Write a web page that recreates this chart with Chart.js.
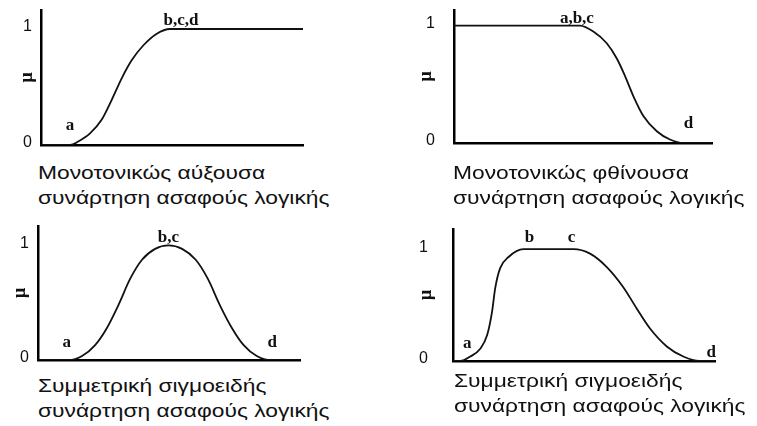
<!DOCTYPE html>
<html>
<head>
<meta charset="utf-8">
<script src="https://cdn.jsdelivr.net/npm/chart.js@4.4.1/dist/chart.umd.min.js"></script>
<style>
  html, body { margin: 0; padding: 0; background: #fff; }
  #page { position: relative; width: 757px; height: 426px; overflow: hidden; }
  canvas { position: absolute; }
  .caption {
    position: absolute;
    font-family: "Liberation Sans", Arial, sans-serif;
    font-size: 19px;
    line-height: 25px;
    color: #111;
    white-space: nowrap;
    transform: scaleX(1.2);
    transform-origin: left top;
  }
</style>
</head>
<body>
<div id="page">
  <canvas id="p1" width="380" height="150" style="left:0px;top:0px"></canvas>
  <canvas id="p2" width="380" height="150" style="left:377px;top:0px"></canvas>
  <canvas id="p3" width="380" height="150" style="left:0px;top:213px"></canvas>
  <canvas id="p4" width="380" height="150" style="left:377px;top:213px"></canvas>

  <div class="caption" style="left:38px;top:160px">Μονοτονικώς αύξουσα<br>συνάρτηση ασαφούς λογικής</div>
  <div class="caption" style="left:453px;top:160px">Μονοτονικώς φθίνουσα<br>συνάρτηση ασαφούς λογικής</div>
  <div class="caption" style="left:38px;top:373px">Συμμετρική σιγμοειδής<br>συνάρτηση ασαφούς λογικής</div>
  <div class="caption" style="left:454px;top:368px">Συμμετρική σιγμοειδής<br>συνάρτηση ασαφούς λογικής</div>
</div>

<script>
// Τιμές των καμπυλών (x σε μονάδες 0-100 του άξονα, y = μ)
const yTicks = [0, 1];

// 1. Μονοτονικώς αύξουσα
const p1X = [0, 11.1, 14.2, 18.7, 23.2, 27, 30.8, 34.6, 39.1, 44.2, 49.2, 100];
const p1Y = [0, 0, 0.03, 0.10, 0.22, 0.39, 0.575, 0.73, 0.86, 0.96, 1, 1];
const p1Marks = ["a", "b,c,d"];
const p1MarkX = [11.1, 49.2];
const p1MarkY = [0, 1];

// 2. Μονοτονικώς φθίνουσα
const p2X = [0, 48.8, 54, 59.2, 63.1, 66.3, 69.5, 73.4, 78.6, 83.7, 88.9, 100];
const p2Y = [1, 1, 0.95, 0.85, 0.72, 0.57, 0.40, 0.23, 0.10, 0.03, 0, 0];
const p2Marks = ["a,b,c", "d"];
const p2MarkX = [48.8, 88.9];
const p2MarkY = [1, 0];

// 3. Συμμετρική σιγμοειδής (καμπάνα)
const p3X = [0, 11.7, 16.8, 21.8, 26.3, 30.7, 35.2, 39.7, 44.7, 49.8, 55, 60.2, 64.8, 69.4, 74, 78.5, 83.5, 89, 100];
const p3Y = [0, 0, 0.035, 0.13, 0.28, 0.48, 0.71, 0.875, 0.97, 1, 0.97, 0.875, 0.71, 0.48, 0.28, 0.13, 0.035, 0, 0];
const p3Marks = ["a", "b,c", "d"];
const p3MarkX = [11.7, 49.8, 89];
const p3MarkY = [0, 1, 0];

// 4. Συμμετρική σιγμοειδής (τραπέζιο)
const p4X = [0, 2.8, 6.6, 10.4, 13, 14.9, 16.1, 18, 21.2, 26.9, 46, 52.3, 58.7, 65, 70.1, 75.2, 81.6, 87.9, 94, 100];
const p4Y = [0, 0, 0.04, 0.11, 0.23, 0.44, 0.65, 0.83, 0.93, 1, 1, 0.96, 0.84, 0.66, 0.47, 0.29, 0.13, 0.04, 0, 0];
const p4Marks = ["a", "b", "c", "d"];
const p4MarkX = [2.8, 26.9, 46, 94];
const p4MarkY = [0, 1, 1, 0];

// Plugin που γράφει τα a, b, c, d πάνω στην καμπύλη
const markPlugin = {
  id: "marks",
  afterDatasetsDraw(chart, args, opts) {
    const { ctx, scales } = chart;
    ctx.save();
    ctx.font = "bold 17px 'Liberation Serif', serif";
    ctx.fillStyle = "#111";
    ctx.textAlign = "center";
    ctx.textBaseline = "alphabetic";
    opts.text.forEach((t, i) => {
      const px = scales.x.getPixelForValue(opts.xs[i]) + opts.offsets[i][0];
      const py = scales.y.getPixelForValue(opts.ys[i]) + opts.offsets[i][1];
      ctx.fillText(t, px, py);
    });
    ctx.restore();
  }
};

// quita el relleno extra que Chart.js añade por las etiquetas
function sinPadding(scale) {
  scale.paddingTop = 0;
  scale.paddingBottom = 0;
  scale.paddingLeft = 0;
  scale.paddingRight = 0;
}

/**
 * Δημιουργεί ένα από τα τέσσερα διαγράμματα
 */
function crearPanel(id, xs, ys, marks, markXs, markYs, cfg) {
  const points = xs.map((x, i) => ({ x: x, y: ys[i] }));
  return new Chart(document.getElementById(id), {
    type: "line",
    data: {
      datasets: [{
        data: points,
        borderColor: "#111",
        borderWidth: 1.8,
        pointRadius: 0,
        cubicInterpolationMode: "monotone",
        fill: false
      }]
    },
    options: {
      responsive: false,
      animation: false,
      layout: { padding: cfg.padding },
      plugins: {
        legend: { display: false },
        tooltip: { enabled: false },
        marks: { text: marks, xs: markXs, ys: markYs, offsets: cfg.offsets }
      },
      scales: {
        x: {
          type: "linear",
          min: 0,
          max: 100,
          ticks: { display: false },
          grid: { display: false, drawTicks: false },
          border: { display: true, color: "#000", width: 2.5 },
          afterFit(scale) { scale.height = 0; sinPadding(scale); }
        },
        y: {
          min: 0,
          max: cfg.yMax,
          afterBuildTicks(scale) { scale.ticks = yTicks.map(v => ({ value: v })); },
          ticks: {
            padding: cfg.tickPad,
            color: "#111",
            labelOffset: -2,
            font: { family: "'Liberation Sans', Arial, sans-serif", size: 16 }
          },
          grid: { display: false, drawTicks: false, tickLength: 0 },
          border: { display: true, color: "#000", width: 2.5 },
          title: {
            display: true,
            text: "μ",
            color: "#111",
            padding: 0,
            font: { family: "'Liberation Serif', serif", size: 18, weight: "bold", lineHeight: 1 }
          },
          afterFit(scale) { scale.width = cfg.axisWidth; sinPadding(scale); }
        }
      }
    },
    plugins: [markPlugin]
  });
}

crearPanel("p1", p1X, p1Y, p1Marks, p1MarkX, p1MarkY, {
  padding: { left: 18, top: 10, right: 77, bottom: 5 },
  axisWidth: 23, tickPad: 9, yMax: 1.164,
  offsets: [[0, -15], [11, -4]]
});

crearPanel("p2", p2X, p2Y, p2Marks, p2MarkX, p2MarkY, {
  padding: { left: 40, top: 10, right: 45, bottom: 7 },
  axisWidth: 37, tickPad: 19, yMax: 1.133,
  offsets: [[-3, -3], [5, -15]]
});

crearPanel("p3", p3X, p3Y, p3Marks, p3MarkX, p3MarkY, {
  padding: { left: 11, top: 13, right: 80, bottom: 3 },
  axisWidth: 27, tickPad: 9, yMax: 1.17,
  offsets: [[-2, -13], [0, -3], [1, -13]]
});

crearPanel("p4", p4X, p4Y, p4Marks, p4MarkX, p4MarkY, {
  padding: { left: 40, top: 16, right: 42, bottom: 2 },
  axisWidth: 36, tickPad: 25, yMax: 1.18,
  offsets: [[7, -13], [6, -7], [-2, -7], [12, -4]]
});
</script>
</body>
</html>
